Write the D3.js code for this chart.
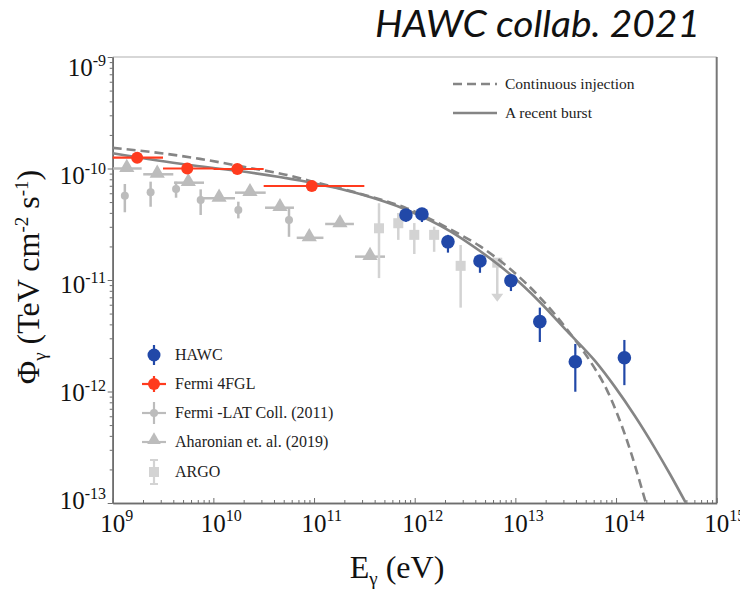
<!DOCTYPE html>
<html>
<head>
<meta charset="utf-8">
<script src="https://cdn.jsdelivr.net/npm/d3@7"></script>
<style>
  body { margin: 0; background: #fff; }
  svg { display: block; }
  .serif { font-family: "Liberation Serif", "Times New Roman", Times, "DejaVu Serif", "Noto Serif", serif; }
</style>
</head>
<body>
<svg id="chart" width="740" height="591"></svg>
<script>
// HAWC
const hawcE = [8.18e11, 1.18e12, 2.14e12, 4.45e12, 9.04e12, 1.75e13, 3.94e13, 1.21e14];
const hawcF = [3.83e-11, 3.91e-11, 2.20e-11, 1.48e-11, 9.86e-12, 4.23e-12, 1.85e-12, 2.01e-12];
const hawcLo = [3.33e-11, 3.31e-11, 1.76e-11, 1.16e-11, 7.96e-12, 2.78e-12, 9.95e-13, 1.14e-12];
const hawcHi = [4.25e-11, 4.43e-11, 2.54e-11, 1.67e-11, 1.11e-11, 5.65e-12, 2.67e-12, 2.90e-12];

// Fermi 4FGL
const fermiE = [1.75e9, 5.5e9, 1.73e10, 9.5e10];
const fermiF = [1.25e-10, 1.0e-10, 9.9e-11, 6.97e-11];
const fermiElo = [1e9, 3.16e9, 1e10, 3.16e10];
const fermiEhi = [3.16e9, 1e10, 3.16e10, 3.16e11];

// Fermi-LAT Coll. (2011)
const latE = [1.32e9, 2.38e9, 4.26e9, 7.48e9, 1.77e10, 5.64e10];
const latF = [5.70e-11, 6.12e-11, 6.55e-11, 5.21e-11, 4.25e-11, 3.45e-11];
const latLo = [4.05e-11, 4.54e-11, 5.47e-11, 3.83e-11, 3.57e-11, 2.44e-11];
const latHi = [7.26e-11, 7.62e-11, 7.62e-11, 6.50e-11, 5.04e-11, 4.43e-11];

// Aharonian et. al. (2019)
const ahaE = [1.38e9, 2.77e9, 5.64e9, 1.14e10, 2.31e10, 4.59e10, 8.97e10, 1.81e11, 3.60e11];
const ahaF = [1.00e-10, 8.87e-11, 7.46e-11, 5.41e-11, 6.07e-11, 4.45e-11, 2.39e-11, 3.18e-11, 1.62e-11];
const ahaElo = [1.01e9, 2.01e9, 4.06e9, 7.94e9, 1.64e10, 3.26e10, 6.73e10, 1.29e11, 2.55e11];
const ahaEhi = [1.94e9, 4.0e9, 8.07e9, 1.64e10, 3.31e10, 6.32e10, 1.24e11, 2.49e11, 5.07e11];

// ARGO
const argoE = [4.42e11, 6.87e11, 9.91e11, 1.56e12, 2.86e12];
const argoF = [2.91e-11, 3.23e-11, 2.54e-11, 2.54e-11, 1.34e-11];
const argoLo = [1.04e-11, 2.29e-11, 1.71e-11, 1.79e-11, 5.65e-12];
const argoHi = [4.88e-11, 3.99e-11, 3.24e-11, 3.01e-11, 2.06e-11];
const argoUlE = [6.61e12];
const argoUlF = [1.43e-11];
const argoUlTip = [6.38e-12];

// model curves
const injE = [1e9, 3.46e9, 7.36e9, 2.31e10, 5.40e10, 9.12e10, 2.86e11, 8.38e11, 2.24e12, 4.45e12, 8.83e12, 1.75e13, 3.73e13, 5.51e13, 8.13e13, 1.28e14, 1.98e14];
const injF = [1.53e-10, 1.35e-10, 1.22e-10, 1.01e-10, 8.75e-11, 7.73e-11, 5.95e-11, 4.39e-11, 2.86e-11, 2.01e-11, 1.26e-11, 7.0e-12, 3.08e-12, 1.88e-12, 1.03e-12, 3.67e-13, 1.0e-13];
const burstE = [1e9, 5.47e9, 1.72e10, 7.26e10, 2.86e11, 8.38e11, 2.24e12, 4.45e12, 8.83e12, 1.75e13, 3.25e13, 6.18e13, 9.75e13, 1.54e14, 2.43e14, 3.43e14, 4.94e14];
const burstF = [1.37e-10, 1.08e-10, 9.55e-11, 7.80e-11, 5.90e-11, 4.25e-11, 2.75e-11, 1.82e-11, 1.13e-11, 6.35e-12, 3.49e-12, 1.88e-12, 1.10e-12, 6.03e-13, 3.11e-13, 1.82e-13, 1.0e-13];

const xTicks = [1e9, 1e10, 1e11, 1e12, 1e13, 1e14, 1e15];
const xExp = ["9", "10", "11", "12", "13", "14", "15"];
const yTicks = [1e-9, 1e-10, 1e-11, 1e-12, 1e-13];
const yExp = ["-9", "-10", "-11", "-12", "-13"];

const legendNames = ["HAWC", "Fermi 4FGL", "Fermi -LAT Coll. (2011)", "Aharonian et. al. (2019)", "ARGO"];
const curveNames = ["Continuous injection", "A recent burst"];

const blue = "#2148a8", red = "#ff3b1e", gray = "#bcbcbc", lgray = "#d3d3d3", curveCol = "#858585";

const pLeft = 112.7, pRight = 716.7, pTop = 57, pBottom = 503;
const x = d3.scaleLog().domain([1e9, 1e15]).range([pLeft, pRight]);
const y = d3.scaleLog().domain([1e-13, 1e-9]).range([pBottom, pTop]);

const svg = d3.select("#chart");

// minor ticks
const xMinor = [], yMinor = [];
for (let e = 9; e < 15; e++) for (let k = 2; k <= 9; k++) xMinor.push(k * Math.pow(10, e));
for (let e = -13; e < -9; e++) for (let k = 2; k <= 9; k++) yMinor.push(k * Math.pow(10, e));

// frame
svg.append("line").attr("x1", pLeft).attr("x2", pRight).attr("y1", pTop).attr("y2", pTop)
  .attr("stroke", "#b0b0b0").attr("stroke-width", 1.2);
svg.append("line").attr("x1", pRight).attr("x2", pRight).attr("y1", pTop).attr("y2", pBottom)
  .attr("stroke", "#777").attr("stroke-width", 2);

function styleAxis(g) {
  g.select(".domain").attr("stroke", "#6e6e6e").attr("stroke-width", 1.6);
  g.selectAll(".tick line").attr("stroke", "#6e6e6e").attr("stroke-width", 1);
  g.selectAll(".tick text").remove();
}

svg.append("g").attr("transform", `translate(0,${pBottom})`)
  .call(d3.axisBottom(x).tickValues(xMinor).tickSizeInner(-3).tickSizeOuter(0).tickFormat(""))
  .call(styleAxis);
svg.append("g").attr("transform", `translate(0,${pBottom})`)
  .call(d3.axisBottom(x).tickValues(xTicks).tickSizeInner(-5).tickSizeOuter(0).tickFormat(""))
  .call(styleAxis);
svg.append("g").attr("transform", `translate(${pLeft},0)`)
  .call(d3.axisLeft(y).tickValues(yMinor).tickSizeInner(3).tickSizeOuter(0).tickFormat(""))
  .call(styleAxis);
svg.append("g").attr("transform", `translate(${pLeft},0)`)
  .call(d3.axisLeft(y).tickValues(yTicks).tickSizeInner(5).tickSizeOuter(0).tickFormat(""))
  .call(styleAxis);

// tick labels ("10" centred on the tick, exponent hanging right)
const xl = svg.append("g").selectAll("text").data(xTicks).enter().append("text")
  .attr("class", "serif")
  .attr("x", d => x(d) - 12.5).attr("y", 532)
  .attr("font-size", 25).attr("fill", "#111");
xl.append("tspan").text("10");
xl.append("tspan").attr("dy", -11).attr("font-size", 16).text((d, i) => xExp[i]);

const yl = svg.append("g").selectAll("text").data(yTicks).enter().append("text")
  .attr("class", "serif")
  .attr("x", 106).attr("y", (d, i) => y(d) + 19 - 3.2 * i)
  .attr("text-anchor", "end")
  .attr("font-size", 25).attr("fill", "#111");
yl.append("tspan").text("10");
yl.append("tspan").attr("dy", -10).attr("font-size", 16).text((d, i) => yExp[i]);

// axis titles
const xt = svg.append("text").attr("class", "serif").attr("x", 397).attr("y", 578).attr("text-anchor", "middle")
  .attr("font-size", 32).attr("fill", "#111");
xt.append("tspan").text("E");
xt.append("tspan").attr("dy", 7).attr("font-size", 19).text("γ");
xt.append("tspan").attr("dy", -7).text(" (eV)");

const yt = svg.append("text").attr("class", "serif").attr("transform", "translate(39,277) rotate(-90)").attr("text-anchor", "middle")
  .attr("font-size", 32).attr("fill", "#111");
yt.append("tspan").text("Φ");
yt.append("tspan").attr("dy", 7).attr("font-size", 19).text("γ");
yt.append("tspan").attr("dy", -7).text(" (TeV cm");
yt.append("tspan").attr("dy", -11).attr("font-size", 19).text("-2");
yt.append("tspan").attr("dy", 11).text(" s");
yt.append("tspan").attr("dy", -11).attr("font-size", 19).text("-1");
yt.append("tspan").attr("dy", 11).text(")");

// title
svg.append("text").attr("x", 700).attr("y", 37).attr("text-anchor", "end")
  .attr("font-family", "Lato, 'Open Sans', sans-serif").attr("font-style", "italic")
  .attr("font-size", 37).attr("textLength", 325).attr("lengthAdjust", "spacingAndGlyphs")
  .attr("fill", "#111").text("HAWC collab. 2021");

const plot = svg.append("g");

// Fermi-LAT 2011
const lat = d3.range(latE.length);
plot.selectAll(".latErr").data(lat).enter().append("line")
  .attr("x1", i => x(latE[i])).attr("x2", i => x(latE[i]))
  .attr("y1", i => y(latLo[i])).attr("y2", i => y(latHi[i]))
  .attr("stroke", gray).attr("stroke-width", 2.5);
plot.selectAll(".latDot").data(lat).enter().append("circle")
  .attr("cx", i => x(latE[i])).attr("cy", i => y(latF[i])).attr("r", 4).attr("fill", gray);

// Aharonian 2019
const aha = d3.range(ahaE.length);
plot.selectAll(".ahaErr").data(aha).enter().append("line")
  .attr("x1", i => x(ahaElo[i])).attr("x2", i => x(ahaEhi[i]))
  .attr("y1", i => y(ahaF[i])).attr("y2", i => y(ahaF[i]))
  .attr("stroke", gray).attr("stroke-width", 2.5);
plot.selectAll(".ahaTri").data(aha).enter().append("path")
  .attr("d", d3.symbol(d3.symbolTriangle, 100))
  .attr("transform", i => `translate(${x(ahaE[i])},${y(ahaF[i]) - 1})`)
  .attr("fill", gray);

// ARGO
const argo = d3.range(argoE.length);
plot.selectAll(".argoErr").data(argo).enter().append("line")
  .attr("x1", i => x(argoE[i])).attr("x2", i => x(argoE[i]))
  .attr("y1", i => y(argoLo[i])).attr("y2", i => y(argoHi[i]))
  .attr("stroke", lgray).attr("stroke-width", 2.5);
plot.selectAll(".argoSq").data(argo).enter().append("rect")
  .attr("x", i => x(argoE[i]) - 5).attr("y", i => y(argoF[i]) - 5)
  .attr("width", 10).attr("height", 10).attr("fill", lgray);
plot.selectAll(".argoUl").data(argoUlE).enter().append("line")
  .attr("x1", (d) => x(d)).attr("x2", d => x(d))
  .attr("y1", (d, i) => y(argoUlF[i])).attr("y2", (d, i) => y(argoUlTip[i]) - 6)
  .attr("stroke", lgray).attr("stroke-width", 2.5);
plot.selectAll(".argoUlHead").data(argoUlE).enter().append("path")
  .attr("d", (d, i) => {
    const cx = x(d), cy = y(argoUlTip[i]);
    return `M${cx - 6},${cy - 8}L${cx + 6},${cy - 8}L${cx},${cy}Z`;
  }).attr("fill", lgray);
plot.selectAll(".argoUlSq").data(argoUlE).enter().append("rect")
  .attr("x", d => x(d) - 5).attr("y", (d, i) => y(argoUlF[i]) - 5)
  .attr("width", 10).attr("height", 10).attr("fill", lgray);

// model curves
const line = d3.line().x(d => x(d[0])).y(d => y(d[1])).curve(d3.curveMonotoneX);
plot.append("path").datum(injE.map((e, i) => [e, injF[i]])).attr("d", line)
  .attr("fill", "none").attr("stroke", curveCol).attr("stroke-width", 2.6)
  .attr("stroke-dasharray", "9,5");
plot.append("path").datum(burstE.map((e, i) => [e, burstF[i]])).attr("d", line)
  .attr("fill", "none").attr("stroke", curveCol).attr("stroke-width", 2.6);

// Fermi 4FGL
const fer = d3.range(fermiE.length);
plot.selectAll(".ferErr").data(fer).enter().append("line")
  .attr("x1", i => x(fermiElo[i])).attr("x2", i => x(fermiEhi[i]))
  .attr("y1", i => y(fermiF[i])).attr("y2", i => y(fermiF[i]))
  .attr("stroke", red).attr("stroke-width", 2.2);
plot.selectAll(".ferDot").data(fer).enter().append("circle")
  .attr("cx", i => x(fermiE[i])).attr("cy", i => y(fermiF[i])).attr("r", 6).attr("fill", red);

// HAWC
const hw = d3.range(hawcE.length);
plot.selectAll(".hawcErr").data(hw).enter().append("line")
  .attr("x1", i => x(hawcE[i])).attr("x2", i => x(hawcE[i]))
  .attr("y1", i => y(hawcLo[i])).attr("y2", i => y(hawcHi[i]))
  .attr("stroke", blue).attr("stroke-width", 2.2);
plot.selectAll(".hawcDot").data(hw).enter().append("circle")
  .attr("cx", i => x(hawcE[i])).attr("cy", i => y(hawcF[i])).attr("r", 6.8).attr("fill", blue);

// curve legend
const cl = svg.append("g");
cl.append("line").attr("x1", 453).attr("x2", 497).attr("y1", 84).attr("y2", 84)
  .attr("stroke", curveCol).attr("stroke-width", 2.6).attr("stroke-dasharray", "9,5");
cl.append("line").attr("x1", 453).attr("x2", 497).attr("y1", 113).attr("y2", 113)
  .attr("stroke", curveCol).attr("stroke-width", 2.6);
cl.selectAll("text").data(curveNames).enter().append("text")
  .attr("class", "serif")
  .attr("x", 505).attr("y", (d, i) => 89 + i * 29)
  .attr("font-size", 15.5).attr("fill", "#222").text(d => d);

// data legend
const lx = 154, ly = [355, 384, 413, 442, 472];
const lg = svg.append("g");
lg.append("line").attr("x1", lx).attr("x2", lx).attr("y1", ly[0] - 10).attr("y2", ly[0] + 10)
  .attr("stroke", blue).attr("stroke-width", 2.2);
lg.append("circle").attr("cx", lx).attr("cy", ly[0]).attr("r", 6.5).attr("fill", blue);
lg.append("line").attr("x1", lx - 12).attr("x2", lx + 12).attr("y1", ly[1]).attr("y2", ly[1])
  .attr("stroke", red).attr("stroke-width", 2.2);
lg.append("line").attr("x1", lx).attr("x2", lx).attr("y1", ly[1] - 8).attr("y2", ly[1] + 8)
  .attr("stroke", red).attr("stroke-width", 2.2);
lg.append("circle").attr("cx", lx).attr("cy", ly[1]).attr("r", 6).attr("fill", red);
lg.append("line").attr("x1", lx - 12).attr("x2", lx + 12).attr("y1", ly[2]).attr("y2", ly[2])
  .attr("stroke", gray).attr("stroke-width", 2.2);
lg.append("line").attr("x1", lx).attr("x2", lx).attr("y1", ly[2] - 11).attr("y2", ly[2] + 11)
  .attr("stroke", gray).attr("stroke-width", 2.2);
lg.append("circle").attr("cx", lx).attr("cy", ly[2]).attr("r", 4).attr("fill", gray);
lg.append("line").attr("x1", lx - 12).attr("x2", lx + 12).attr("y1", ly[3]).attr("y2", ly[3])
  .attr("stroke", gray).attr("stroke-width", 2.2);
lg.append("path").attr("d", d3.symbol(d3.symbolTriangle, 80))
  .attr("transform", `translate(${lx},${ly[3] - 2})`).attr("fill", gray);
lg.append("path").attr("d", `M${lx - 4},${ly[4] - 12}H${lx + 4}M${lx},${ly[4] - 12}V${ly[4] + 12}M${lx - 4},${ly[4] + 12}H${lx + 4}`)
  .attr("stroke", lgray).attr("stroke-width", 2.2).attr("fill", "none");
lg.append("rect").attr("x", lx - 5).attr("y", ly[4] - 5).attr("width", 10).attr("height", 10).attr("fill", lgray);
lg.selectAll("text").data(legendNames).enter().append("text")
  .attr("class", "serif")
  .attr("x", 175).attr("y", (d, i) => ly[i] + 5)
  .attr("font-size", 16).attr("fill", "#222").text(d => d);
</script>
</body>
</html>
